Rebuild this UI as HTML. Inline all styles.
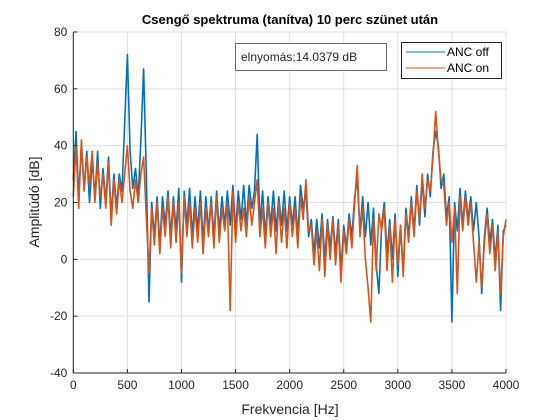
<!DOCTYPE html>
<html><head><meta charset="utf-8"><style>
html,body{margin:0;padding:0;background:#fff;}
svg{display:block;font-family:"Liberation Sans",Arial,sans-serif;}
</style></head><body>
<svg id="chart" width="560" height="420" viewBox="0 0 560 420">
<rect x="0" y="0" width="560" height="420" fill="#fff"/>
<g id="grid"></g>
<g id="series"></g>
<g id="axes"></g>
<text x="290" y="24" text-anchor="middle" font-size="13" font-weight="bold" fill="#000">Csengő spektruma (tanítva) 10 perc szünet után</text>
<text x="290" y="414" text-anchor="middle" font-size="14" fill="#262626">Frekvencia [Hz]</text>
<text transform="translate(39,202) rotate(-90)" text-anchor="middle" font-size="14" fill="#262626">Amplitúdó [dB]</text>
<g>
<rect x="235.5" y="43.5" width="151" height="27" fill="#fff" stroke="#6b6b6b" stroke-width="1"/>
<text x="241" y="61" font-size="12" fill="#262626">elnyomás:14.0379 dB</text>
</g>
<g>
<rect x="401.5" y="42.5" width="100" height="36" fill="#fff" stroke="#262626" stroke-width="1"/>
<line x1="406" y1="52" x2="445" y2="52" stroke="#0072BD" stroke-width="1"/>
<text x="447" y="56" font-size="12" fill="#000">ANC off</text>
<line x1="406" y1="68" x2="445" y2="68" stroke="#D95319" stroke-width="1"/>
<text x="447" y="72" font-size="12" fill="#000">ANC on</text>
</g>
</svg>
<script>
const xTicks=[0,500,1000,1500,2000,2500,3000,3500,4000];
const yTicks=[-40,-20,0,20,40,60,80];
const freqStep=25;
const ancOff=[28,45,22,40,25,38,20,35,22,38,
18,32,20,36,15,30,18,30,24,48,
72,38,25,32,22,42,67,30,-15,20,
8,22,5,22,12,24,8,22,10,25,
-8,24,12,25,8,22,10,24,6,22,
10,22,8,24,10,22,12,24,12,26,
10,24,14,26,12,26,18,24,44,12,
24,8,22,12,24,10,22,12,24,10,
22,12,22,8,26,18,24,8,14,2,
14,4,16,0,14,4,15,2,14,-4,
12,4,16,8,22,28,10,22,8,20,
5,18,-2,-12,12,20,2,14,0,16,
-6,12,-4,18,8,22,10,26,12,28,
15,30,22,38,45,40,25,30,15,22,
-22,20,10,25,12,24,14,22,10,20,
8,-12,8,18,6,14,0,12,-18,10,
12];
const ancOn=[22,40,18,42,24,36,26,38,20,34,
22,30,18,34,12,28,16,28,20,30,
40,24,18,28,20,30,36,15,-5,18,
5,20,2,18,8,22,4,20,6,20,
-5,22,8,20,4,18,6,20,2,18,
8,20,4,22,6,18,10,20,-18,24,
6,20,10,18,8,22,12,20,28,8,
18,4,20,8,18,2,20,6,18,4,
20,8,18,4,22,14,28,10,12,-2,
10,-4,14,-6,12,0,14,-2,12,-8,
10,2,14,4,20,33,8,18,0,-10,
-22,14,-4,16,10,18,-4,12,-8,14,
-2,12,-6,16,6,20,8,24,14,30,
18,28,24,36,52,38,28,26,12,20,
6,18,-12,22,10,22,12,20,6,-8,
6,-10,6,16,2,12,-4,10,-12,8,
14];
const X0=73.3,X1=506,Y0=32,Y1=373,XMIN=0,XMAX=4000,YMIN=-40,YMAX=80;
function xs(f){return X0+(f-XMIN)/(XMAX-XMIN)*(X1-X0);}
function ys(v){return Y1-(v-YMIN)/(YMAX-YMIN)*(Y1-Y0);}
const NS='http://www.w3.org/2000/svg';
function mk(tag,attrs,parent){const e=document.createElementNS(NS,tag);for(const k in attrs)e.setAttribute(k,attrs[k]);parent.appendChild(e);return e;}
const grid=document.getElementById('grid'),axes=document.getElementById('axes'),series=document.getElementById('series');
xTicks.forEach(t=>{
 const g=mk('line',{x1:xs(t),x2:xs(t),y1:Y0,y2:Y1,stroke:'#dfdfdf','stroke-width':1},grid);
 
 
 mk('line',{x1:xs(t),x2:xs(t),y1:Y1,y2:Y1-4,stroke:'#262626','stroke-width':1},axes);
 const l=mk('text',{x:xs(t),y:Y1+16,'text-anchor':'middle','font-size':12,fill:'#262626'},axes);
 l.textContent=t;
 
 
});
yTicks.forEach(t=>{
 const g=mk('line',{x1:X0,x2:X1,y1:ys(t),y2:ys(t),stroke:'#dfdfdf','stroke-width':1},grid);
 
 
 mk('line',{x1:X0,x2:X0+4,y1:ys(t),y2:ys(t),stroke:'#262626','stroke-width':1},axes);
 const l=mk('text',{x:X0-6,y:ys(t)+4,'text-anchor':'end','font-size':12,fill:'#262626'},axes);
 l.textContent=t;
 
 
});
mk('line',{x1:X0,x2:X1,y1:Y1,y2:Y1,stroke:'#262626','stroke-width':1},axes);
mk('line',{x1:X0,x2:X0,y1:Y0,y2:Y1,stroke:'#262626','stroke-width':1},axes);
function draw(arr,color,name){
 const pts=arr.map((v,i)=>xs(i*freqStep).toFixed(1)+','+ys(v).toFixed(1)).join(' ');
 const p=mk('polyline',{points:pts,fill:'none',stroke:color,'stroke-width':1.6,'stroke-linejoin':'round'},series);
 
 
}
draw(ancOff,'#0072BD','anc-off-line');
draw(ancOn,'#D95319','anc-on-line');
</script>
</body></html>
